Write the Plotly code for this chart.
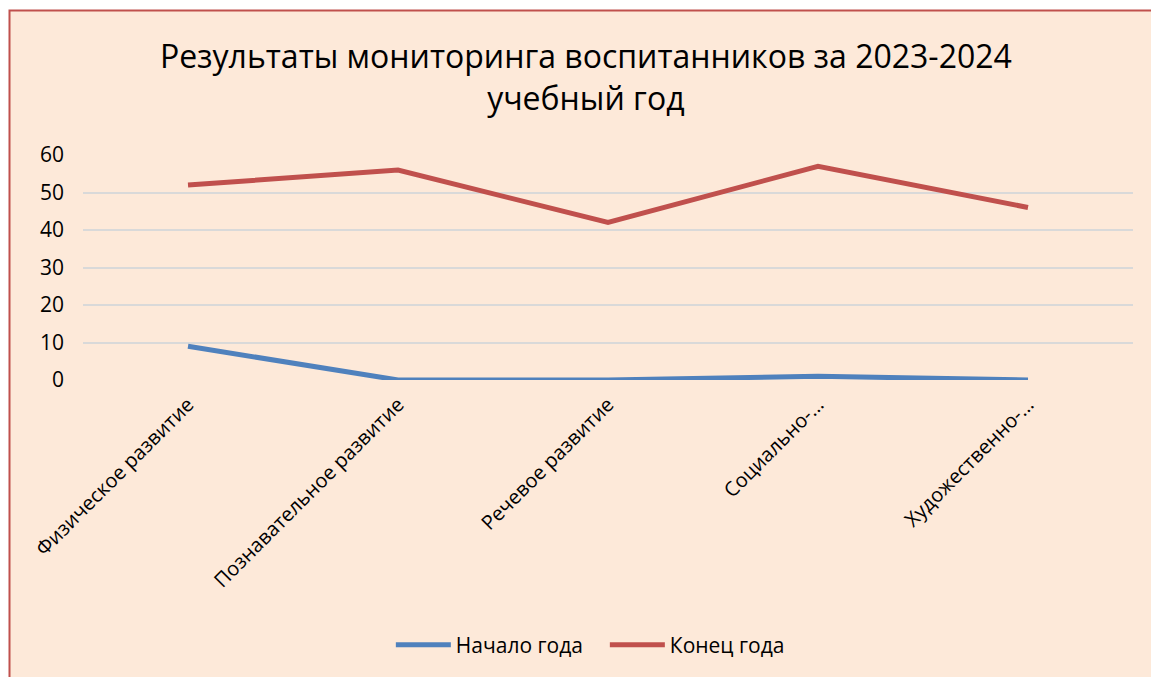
import plotly.graph_objects as go

categories = ["Физическое развитие", "Познавательное развитие", "Речевое развитие",
              "Социально-...", "Художественно-..."]
start_values = [9, 0, 0, 1, 0]
end_values = [52, 56, 42, 57, 46]
series_names = ["Начало года", "Конец года"]
title_text = "Результаты мониторинга воспитанников за 2023-2024<br>учебный год"
y_ticks = [0, 10, 20, 30, 40, 50, 60]

W, H = 1151, 677
L, R, T, B = 83, 18, 155, 297
pw, ph = W - L - R, H - T - B

FONT = "Open Sans"

fig = go.Figure()
fig.add_trace(go.Scatter(x=categories, y=start_values, name=series_names[0], mode="lines",
                         line=dict(color="#4F81BD", width=5)))
fig.add_trace(go.Scatter(x=categories, y=end_values, name=series_names[1], mode="lines",
                         line=dict(color="#C0504D", width=5)))

def px_x(x):
    return (x - L) / pw

def px_y(y):
    return (H - B - y) / ph

fig.add_shape(type="rect", xref="paper", yref="paper", layer="below",
              x0=px_x(9.5), x1=px_x(1165), y0=px_y(700), y1=px_y(10.5),
              fillcolor="#FDE9D9", line=dict(color="#C0504D", width=2))

fig.update_layout(
    width=W, height=H,
    margin=dict(l=L, r=R, t=T, b=B),
    paper_bgcolor="white",
    plot_bgcolor="rgba(0,0,0,0)",
    font=dict(family=FONT, color="black", size=21),
    title=dict(text=title_text, x=0.509, xanchor="center", y=1 - 68 / H, yanchor="middle",
               yref="container", font=dict(size=32, family=FONT)),
    showlegend=True,
    legend=dict(orientation="h", x=0.497, xanchor="center", y=px_y(645), yanchor="middle",
                font=dict(size=21), itemwidth=55, entrywidth=144, entrywidthmode="pixels",
                bgcolor="rgba(0,0,0,0)"),
    xaxis=dict(type="category", range=[-0.5, 4.5], showgrid=False, showline=False,
               tickangle=-45, ticks="", ticklabelstandoff=8, tickfont=dict(size=20)),
    yaxis=dict(range=[0, 60], tickvals=y_ticks, showgrid=True, gridcolor="#D9D9D9", gridwidth=1.5,
               zeroline=False, showline=False, ticks="", ticklabelstandoff=18,
               tickfont=dict(size=21)),
)

fig.write_html("out.html")
